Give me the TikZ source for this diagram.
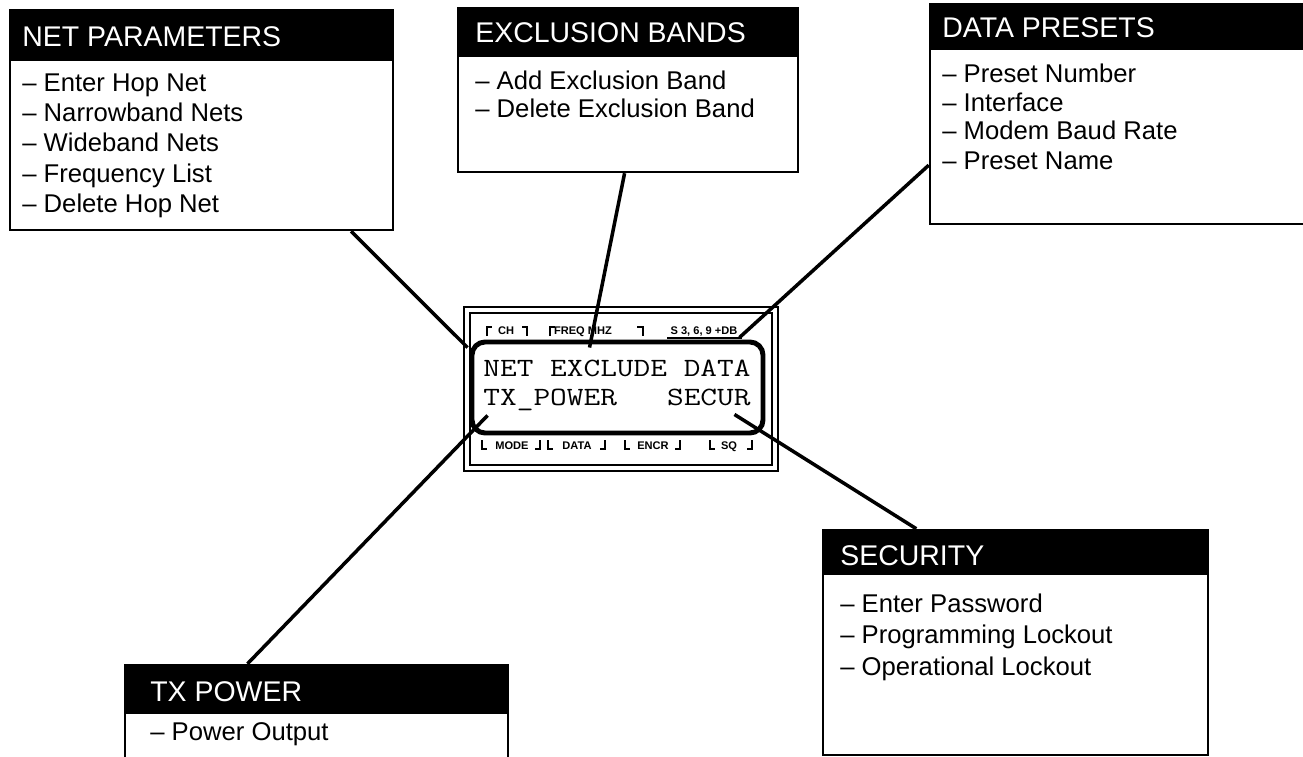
\documentclass[tikz,border=0pt]{standalone}
\usepackage{fontspec}
\setmainfont{Liberation Sans}
\usetikzlibrary{calc,fit}
\begin{document}
\begin{tikzpicture}[x=0.02cm,y=-0.02cm,
 menubox/.style={draw, line width=1.4pt, inner sep=0pt, fill=white},
 headtext/.style={anchor=base west, inner sep=0pt, text=white, font=\fontsize{16.2}{19}\selectfont},
 itemtext/.style={anchor=base west, inner sep=0pt, font=\fontsize{14.6}{17}\selectfont},
 conn/.style={line width=2pt},
 frameline/.style={draw, line width=1.1pt, inner sep=0pt},
 lcdtext/.style={anchor=base west, inner sep=0pt, font=\fontsize{15}{18}\ttfamily, xscale=1.23},
 tinylabel/.style={anchor=base, inner sep=0pt, font=\fontsize{6.3}{7}\selectfont\bfseries},
 brk/.style={line width=1pt}
]
\useasboundingbox (0,0) rectangle (1303,757);

% ---------- NET PARAMETERS ----------
\coordinate (npA) at (10,10); \coordinate (npB) at (393,230);
\node[menubox, fit=(npA)(npB)] (np) {};
\fill (10,10) rectangle (393,61);
\node[headtext] (npH) at (22,47) {NET PARAMETERS};
\node[itemtext] (np1) at (22,92) {-- Enter Hop Net};
\node[itemtext] (np2) at (22,122) {-- Narrowband Nets};
\node[itemtext] (np3) at (22,152) {-- Wideband Nets};
\node[itemtext] (np4) at (22,183) {-- Frequency List};
\node[itemtext] (np5) at (22,213) {-- Delete Hop Net};

% ---------- EXCLUSION BANDS ----------
\coordinate (exA) at (458,8); \coordinate (exB) at (798,172);
\node[menubox, fit=(exA)(exB)] (ex) {};
\fill (458,8) rectangle (798,57);
\node[headtext] (exH) at (475,43) {EXCLUSION BANDS};
\node[itemtext] (ex1) at (475,90) {-- Add Exclusion Band};
\node[itemtext] (ex2) at (475,118) {-- Delete Exclusion Band};

% ---------- DATA PRESETS ----------
\coordinate (dpA) at (930,4); \coordinate (dpB) at (1310,224);
\node[menubox, fit=(dpA)(dpB)] (dp) {};
\fill (930,4) rectangle (1310,50);
\node[headtext] (dpH) at (942,38) {DATA PRESETS};
\node[itemtext] (dp1) at (942,83) {-- Preset Number};
\node[itemtext] (dp2) at (942,112) {-- Interface};
\node[itemtext] (dp3) at (942,140) {-- Modem Baud Rate};
\node[itemtext] (dp4) at (942,170) {-- Preset Name};

% ---------- SECURITY ----------
\coordinate (scA) at (823,530); \coordinate (scB) at (1208,755);
\node[menubox, fit=(scA)(scB)] (sc) {};
\fill (823,530) rectangle (1208,575);
\node[headtext] (scH) at (840,565) {SECURITY};
\node[itemtext] (sc1) at (840,612) {-- Enter Password};
\node[itemtext] (sc2) at (840,643) {-- Programming Lockout};
\node[itemtext] (sc3) at (840,675) {-- Operational Lockout};

% ---------- TX POWER ----------
\coordinate (txA) at (125,665); \coordinate (txB) at (508,780);
\node[menubox, fit=(txA)(txB)] (tx) {};
\fill (125,665) rectangle (508,714);
\node[headtext] (txH) at (150,701) {TX POWER};
\node[itemtext] (tx1) at (150,740) {-- Power Output};

% ---------- DISPLAY ----------
\coordinate (dA) at (464,307); \coordinate (dB) at (778,471);
\node[frameline, fit=(dA)(dB)] (disp) {};
\coordinate (diA) at (470,313); \coordinate (diB) at (772,465);
\node[frameline, fit=(diA)(diB)] (dispin) {};
\coordinate (lA) at (472,342); \coordinate (lB) at (763,433);
\node[draw, line width=2.8pt, rounded corners=0.26cm, inner sep=0pt, fit=(lA)(lB)] (lcd) {};

\node[lcdtext] (row1) at (483,377) {NET EXCLUDE DATA};
\node[lcdtext] (row2) at (483,405) {TX\_POWER\hphantom{XXX}SECUR};

% top labels
\draw[brk] (487,336) -- (487,327) -- (492,327);
\node[tinylabel] (lch) at (506,335) {CH};
\draw[brk] (522,327) -- (527,327) -- (527,336);
\draw[brk] (550,336) -- (550,327) -- (555,327);
\node[tinylabel] (lfreq) at (583,335) {FREQ MHZ};
\draw[brk] (637,327) -- (643,327) -- (643,336);
\node[tinylabel] (lsig) at (704,335) {S 3, 6, 9 +DB};
\draw[line width=0.6pt] (667,338) -- (742,338);

% bottom labels
\draw[brk] (482,440) -- (482,449) -- (487,449);
\node[tinylabel] (lmode) at (512,449) {MODE};
\draw[brk] (535,449) -- (540,449) -- (540,440);
\draw[brk] (548,440) -- (548,449) -- (553,449);
\node[tinylabel] (ldata) at (577,449) {DATA};
\draw[brk] (600,449) -- (605,449) -- (605,440);
\draw[brk] (625,440) -- (625,449) -- (630,449);
\node[tinylabel] (lencr) at (653,449) {ENCR};
\draw[brk] (675,449) -- (680,449) -- (680,440);
\draw[brk] (710,440) -- (710,449) -- (715,449);
\node[tinylabel] (lsq) at (729,449) {SQ};
\draw[brk] (747,449) -- (752,449) -- (752,440);

% ---------- CONNECTORS ----------
\draw[conn] ($(np.south west)!0.888!(np.south east)$) -- ($(lcd.north west)+(-2,8)$);
\draw[conn] ($(ex.south west)!0.49!(ex.south east)$) -- ($(lcd.north west)+(120,8)$);
\draw[conn] ($(dp.north west)!0.73!(dp.south west)$) -- ($(lcd.north east)+(-26,-2)$);
\draw[conn] ($(tx.north west)!0.321!(tx.north east)$) -- ($(lcd.south west)+(18,-20)$);
\draw[conn] ($(sc.north west)!0.244!(sc.north east)$) -- ($(lcd.south east)+(-31,-21)$);
\end{tikzpicture}
\end{document}
